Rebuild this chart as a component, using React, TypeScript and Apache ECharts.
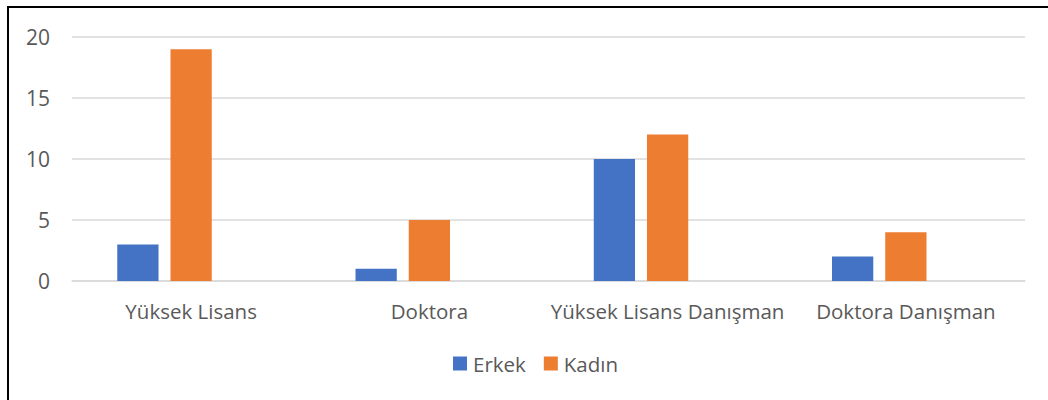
import React, { useEffect, useRef } from "react";
import * as echarts from "echarts";

const categories = ["Yüksek Lisans", "Doktora", "Yüksek Lisans Danışman", "Doktora Danışman"];
const erkek = [3, 1, 10, 2];
const kadin = [19, 5, 12, 4];
const third: (number | null)[] = [null, null, null, null];
const yMin = 0;
const yMax = 20;
const yInterval = 5;

const FONT = "'Open Sans', 'Noto Sans', sans-serif";
const TEXT = "#595959";

export default function App() {
  const ref = useRef<HTMLDivElement>(null);
  useEffect(() => {
    if (!ref.current) return;
    const chart = echarts.init(ref.current, undefined, { renderer: "svg" });
    chart.setOption({
      animation: false,
      textStyle: { fontFamily: FONT },
      grid: { left: 63, top: 29, width: 953, height: 244, containLabel: false },
      legend: {
        data: ["Erkek", "Kadın"],
        top: 340,
        left: 439,
        itemWidth: 14,
        itemHeight: 14,
        itemGap: 18,
        icon: "rect",
        textStyle: { color: TEXT, fontSize: 20.5, fontFamily: FONT, padding: [0, 0, 0, 1] },
      },
      xAxis: {
        type: "category",
        data: categories,
        axisLine: { lineStyle: { color: "#d9d9d9", width: 1.5 } },
        axisTick: { show: false },
        axisLabel: { color: TEXT, fontSize: 20.5, fontFamily: FONT, margin: 19, interval: 0 },
      },
      yAxis: {
        type: "value",
        min: yMin,
        max: yMax,
        interval: yInterval,
        axisLine: { show: false },
        axisTick: { show: false },
        splitLine: { lineStyle: { color: "#d9d9d9", width: 1.5 } },
        axisLabel: { color: TEXT, fontSize: 21, fontFamily: FONT, margin: 22 },
      },
      series: [
        {
          name: "Erkek",
          type: "bar",
          data: erkek,
          barGap: "29%",
          barCategoryGap: "38%",
          itemStyle: { color: "#4472C4" },
        },
        {
          name: "Kadın",
          type: "bar",
          data: kadin,
          itemStyle: { color: "#ED7D31" },
        },
        {
          name: "Diğer",
          type: "bar",
          data: third,
          itemStyle: { color: "#A5A5A5" },
        },
      ],
    });
    return () => chart.dispose();
  }, []);
  return (
    <div
      style={{
        position: "absolute",
        left: 7,
        top: 6,
        width: 1041,
        height: 394,
        boxSizing: "border-box",
        borderLeft: "2px solid #000",
        borderTop: "2px solid #000",
      }}
    >
      <div ref={ref} style={{ width: 1039, height: 392 }} />
    </div>
  );
}
